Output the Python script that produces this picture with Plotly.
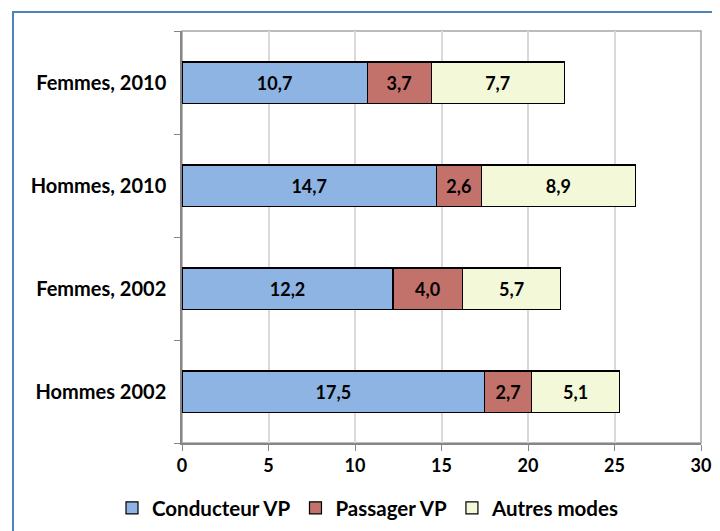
import plotly.graph_objects as go

categories = ["Hommes 2002", "Femmes, 2002", "Hommes, 2010", "Femmes, 2010"]
conducteur = [17.5, 12.2, 14.7, 10.7]
passager = [2.7, 4.0, 2.6, 3.7]
autres = [5.1, 5.7, 8.9, 7.7]
series_names = ["Conducteur VP", "Passager VP", "Autres modes"]
colors = ["#8EB4E3", "#C3716B", "#F3F8D8"]

FONT = "Lato"
fig = go.Figure()
for name, vals, col in zip(series_names, [conducteur, passager, autres], colors):
    fig.add_trace(go.Bar(
        y=categories, x=vals, name=name, orientation="h",
        marker=dict(color=col, line=dict(color="black", width=1.2)),
        texttemplate="%{x:.1f}", textposition="inside", insidetextanchor="middle",
        textfont=dict(family=FONT, size=18, color="black", weight="bold"),
        textangle=0,
    ))

# page body has an 8px margin; the div starts at (8, 8) on screen
OFF = 8
W, H = 720, 531
L, T = 182 - OFF, 31 - OFF
pw, ph = 519, 412
R, B = W - L - pw, H - T - ph

fig.update_layout(
    width=W, height=H, barmode="stack", bargap=0.6,
    separators=",.",
    plot_bgcolor="white", paper_bgcolor="white",
    margin=dict(l=L, r=R, t=T, b=B, autoexpand=False),
    font=dict(family=FONT, size=18, color="black", weight="bold"),
    xaxis=dict(range=[0, 30], dtick=5, showgrid=True, gridcolor="#D9D9D9", gridwidth=1.5,
               showline=True, linecolor="#868686", linewidth=1.5,
               ticks="outside", ticklen=6, tickcolor="#868686", zeroline=False,
               tickfont=dict(family=FONT, size=18, weight="bold"), fixedrange=True),
    yaxis=dict(showline=True, linecolor="#868686", linewidth=1.5,
               ticks="outside", ticklen=6, tickcolor="#868686", tickson="boundaries",
               showgrid=False, ticklabelstandoff=10,
               tickfont=dict(family=FONT, size=20, weight="bold")),
    legend=dict(orientation="h", x=(112 - 182) / pw, xanchor="left",
                y=-(508 - 443) / ph, yanchor="middle",
                font=dict(family=FONT, size=20.5, weight="bold"),
                traceorder="normal", itemwidth=30),
    showlegend=True,
    shapes=[
        dict(type="rect", xref="paper", yref="paper", x0=0, x1=1, y0=0, y1=1,
             line=dict(color="#A6A6A6", width=1.5), layer="below"),
        dict(type="rect", xref="paper", yref="paper",
             x0=(13 - 182) / pw, x1=(W + 40 - 182) / pw,
             y0=(443 - (H + 40)) / ph, y1=(443 - 12) / ph,
             line=dict(color="#4F81BD", width=2)),
    ],
)
fig.write_html("out.html")
